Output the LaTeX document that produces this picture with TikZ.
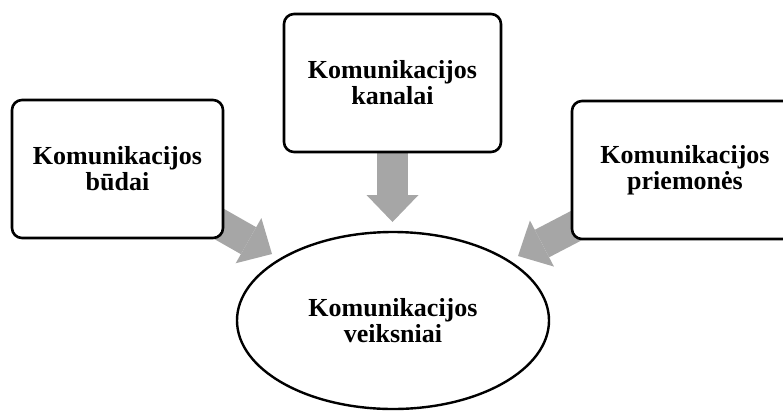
\documentclass[tikz,border=0pt]{standalone}
\usepackage{fontspec}
\setmainfont{Liberation Serif}
\usetikzlibrary{shapes.geometric,arrows.meta,backgrounds}
\definecolor{arrowgray}{RGB}{166,166,166}
\begin{document}
\begin{tikzpicture}[x=1pt,y=-1pt,
  every node/.style={font=\bfseries\fontsize{26}{26}\selectfont, align=center, inner sep=0pt},
  topicbox/.style={draw, line width=2.6pt, rounded corners=10pt, fill=white, minimum height=138pt},
  hub/.style={ellipse, draw, line width=2.4pt, fill=white, minimum width=312pt, minimum height=177pt},
  bigarrow/.style={arrowgray, line width=31pt, -{Triangle[length=27pt,width=52pt,line width=0pt]}}
]
\useasboundingbox (0,0) rectangle (783,410);

% the three source boxes and the central ellipse
\node[topicbox, minimum width=211pt] (budai) at (117.5,169) {Komunikacijos\\būdai};
\node[topicbox, minimum width=217pt] (kanalai) at (392.5,83) {Komunikacijos\\kanalai};
\node[topicbox, minimum width=226pt] (priemones) at (685,170) {Komunikacijos\\priemonės};
\node[hub] (veiksniai) at (393,320.5) {Komunikacijos\\veiksniai};

% arrow tips just outside the ellipse
\coordinate (tipL) at (272,254);
\coordinate (tipM) at (392.5,222);
\coordinate (tipR) at (518,256);

% broad grey arrows, tucked behind the boxes
\begin{scope}[on background layer]
  \draw[bigarrow] ([xshift=-16pt,yshift=21.5pt]budai.south east) -- (tipL);
  \draw[bigarrow] ([yshift=20pt]kanalai.south) -- (tipM);
  \draw[bigarrow] ([xshift=12pt,yshift=18pt]priemones.south west) -- (tipR);
\end{scope}
\end{tikzpicture}
\end{document}
